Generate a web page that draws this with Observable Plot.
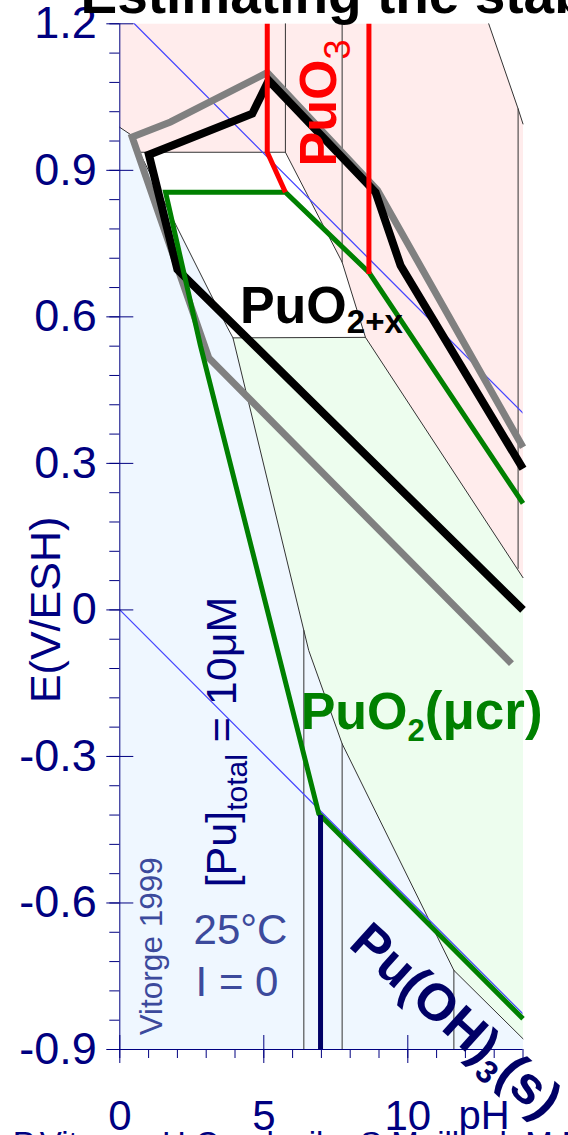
<!DOCTYPE html>
<html><head><meta charset="utf-8">
<script src="https://cdn.jsdelivr.net/npm/d3@7"></script>
<script src="https://cdn.jsdelivr.net/npm/@observablehq/plot@0.6"></script>
<style>
html,body{margin:0;padding:0;background:#fff;overflow:hidden}
#chart{position:relative;width:568px;height:1135px;overflow:hidden}
</style></head><body><div id="chart"></div>
<script>
// ---------- data (pH, E in V/ESH) ----------
const regionPink = [[0,1.2],[12.81,1.2],[13.83,1.026],[14,0.995],[14,0.066],[8.53,0.558],[7.72,0.712],[5.75,0.937],[0.68,0.937],[0.43,0.971],[0,0.988]];
const regionBlue = [[0,0.988],[0.43,0.971],[0.68,0.937],[3.73,0.579],[3.93,0.557],[6.39,-0.042],[6.56,-0.083],[7.72,-0.274],[11.60,-0.738],[14,-0.878],[14,-0.9],[0,-0.9]];
const regionGreen = [[3.93,0.557],[8.53,0.558],[14,0.066],[14,-0.878],[11.60,-0.738],[7.72,-0.274],[6.56,-0.083],[6.39,-0.042]];

const thinBoundaries = [
  [[0,0.988],[0.43,0.971],[0.68,0.937],[3.73,0.579],[3.93,0.557],[6.39,-0.042],[6.56,-0.083],[7.72,-0.274],[11.60,-0.738],[14,-0.878]],
  [[0.68,0.937],[5.75,0.937]],
  [[5.75,1.2],[5.75,0.937],[7.72,0.712],[8.53,0.558]],
  [[7.72,1.2],[7.72,0.712]],
  [[3.93,0.557],[8.53,0.558],[14,0.066]],
  [[12.81,1.2],[13.83,1.026],[14,0.995]],
  [[13.83,1.026],[13.83,0.085]],
  [[6.39,-0.042],[6.39,-0.9]],
  [[7.72,-0.274],[7.72,-0.9]],
  [[11.60,-0.738],[11.60,-0.9]]
];
const waterO2 = [[0,1.23],[14,0.403]];
const waterH2 = [[0,0],[14,-0.827]];

const grayLine  = [[13.60,-0.110],[3.09,0.516],[0.43,0.968],[1.76,0.999],[5.12,1.100],[8.95,0.859],[14,0.333]];
const blackLine = [[14,0.0],[2.00,0.697],[1.01,0.932],[4.60,1.016],[5.17,1.084],[8.88,0.855],[9.75,0.705],[14,0.289]];
const greenLine = [[14,-0.837],[6.91,-0.4175],[2.80,0.541],[1.59,0.855],[5.75,0.855],[8.65,0.691],[14,0.218]];
const redLine1  = [[5.12,1.2],[5.12,0.937],[5.75,0.855]];
const redLine2  = [[8.65,1.2],[8.65,0.688]];
const navyLine  = [[6.97,-0.42],[6.97,-0.9]];

const yMajor = [-0.9,-0.6,-0.3,0,0.3,0.6,0.9,1.2];
const yLabels = ["-0.9","-0.6","-0.3","0","0.3","0.6","0.9","1.2"];
const yMinor = d3.range(-0.9, 1.2001, 0.06);
const xMajor = [0,5,10];
const xLabels = ["0","5","10"];
const xMinor = d3.range(0, 15, 1);

// ---------- helpers ----------
const FONT = '"Liberation Sans", Arial, sans-serif';
const ctx = document.createElement("canvas").getContext("2d");
function tw(t, size, weight) { ctx.font = `${weight} ${size}px "Liberation Sans"`; return ctx.measureText(t).width; }
function rich(at, parts, {rotate = 0, fill = "black"} = {}) {
  const a = rotate * Math.PI / 180, ux = Math.cos(a), uy = Math.sin(a), nx = -Math.sin(a), ny = Math.cos(a);
  let off = 0;
  return parts.map(p => {
    const m = Plot.text([p], {x: () => at[0], y: () => at[1], text: d => d.t, fontSize: p.s, fontWeight: p.w || "normal",
      fontFamily: FONT, fill, rotate, textAnchor: "start", lineAnchor: "bottom",
      dx: off * ux + (p.sh || 0) * nx, dy: off * uy + (p.sh || 0) * ny});
    off += tw(p.t, p.s, p.w || "normal");
    return m;
  });
}
const poly = (d, fill) => Plot.line(d, {x: p => p[0], y: p => p[1], fill, stroke: "none"});
const thick = (d, stroke, w) => Plot.line(d, {x: p => p[0], y: p => p[1], stroke, strokeWidth: w, strokeLinejoin: "miter", strokeLinecap: "butt", strokeMiterlimit: 4});
const NAVY = "#000080";

const chart = Plot.plot({
  width: 568, height: 1135,
  marginLeft: 119.3, marginRight: 45.5, marginTop: 23.3, marginBottom: 86,
  style: {fontFamily: FONT, background: "white", overflow: "visible"},
  x: {domain: [0, 14]},
  y: {domain: [-0.9, 1.2]},
  marks: [
    poly(regionPink, "#ffecec"),
    poly(regionBlue, "#eff7ff"),
    poly(regionGreen, "#edfdee"),
    ...thinBoundaries.map(b => Plot.line(b, {x: p => p[0], y: p => p[1], stroke: "#333", strokeWidth: 1})),
    Plot.line(waterO2, {x: p => p[0], y: p => p[1], stroke: "#4646ff", strokeWidth: 1.3, clip: true}),
    Plot.line(waterH2, {x: p => p[0], y: p => p[1], stroke: "#4646ff", strokeWidth: 1.3, clip: true}),
    thick(grayLine, "#808080", 7),
    thick(blackLine, "#000", 8),
    thick(greenLine, "#008000", 5),
    thick(redLine1, "#ff0000", 5),
    thick(redLine2, "#ff0000", 5),
    thick(navyLine, "#000066", 5),
    // axes
    Plot.ruleX([0], {stroke: NAVY, strokeWidth: 1}),
    Plot.ruleY([-0.9], {stroke: NAVY, strokeWidth: 1}),
    Plot.axisY({ticks: yMinor, tickSize: 10, tickFormat: () => "", stroke: NAVY, label: null}),
    Plot.axisY({ticks: yMajor, tickSize: 13, tickFormat: () => "", stroke: NAVY, label: null}),
    Plot.axisY({ticks: yMajor, tickSize: 14, dx: 14, tickFormat: () => "", stroke: NAVY, label: null}),
    Plot.axisX({ticks: xMinor, tickSize: 9, tickFormat: () => "", stroke: NAVY, label: null}),
    Plot.axisX({ticks: xMajor, tickSize: 14, tickFormat: () => "", stroke: NAVY, label: null}),
    Plot.axisX({ticks: xMajor, tickSize: 14, dy: -14, tickFormat: () => "", stroke: NAVY, label: null}),
    Plot.text(yMajor, {y: d => d, text: (d, i) => yLabels[i], frameAnchor: "left", dx: -23, textAnchor: "end", lineAnchor: "middle", fontSize: 45, fill: NAVY, fontFamily: FONT}),
    Plot.text(xMajor, {x: d => d, text: (d, i) => xLabels[i], frameAnchor: "bottom", dy: 80, textAnchor: "middle", lineAnchor: "bottom", fontSize: 42, fill: NAVY, fontFamily: FONT}),
    Plot.text(["pH"], {x: () => 11.76, text: d => d, frameAnchor: "bottom", dy: 79, textAnchor: "start", lineAnchor: "bottom", fontSize: 40, fill: NAVY, fontFamily: FONT}),
    Plot.text(["E(V/ESH)"], {y: () => 0, text: d => d, frameAnchor: "left", dx: -60, rotate: -90, textAnchor: "middle", lineAnchor: "bottom", fontSize: 43, fill: NAVY, fontFamily: FONT}),
    // in-plot labels
    ...rich([7.49, 0.908], [{t: "PuO", s: 52, w: "bold"}, {t: "3", s: 36, sh: 14}], {rotate: -90, fill: "#ff0000"}),
    ...rich([4.17, 0.588], [{t: "PuO", s: 52, w: "bold"}, {t: "2+x", s: 33, w: "bold", sh: 10}], {fill: "#000"}),
    ...rich([6.28, -0.2435], [{t: "PuO", s: 52, w: "bold"}, {t: "2", s: 31, w: "bold", sh: 12}, {t: "(μcr)", s: 53, w: "bold"}], {fill: "#008000"}),
    ...rich([7.90, -0.688], [{t: "Pu(OH)", s: 52, w: "bold"}, {t: "3", s: 32, w: "bold", sh: 11}, {t: "(s)", s: 53, w: "bold"}], {rotate: 42, fill: "#000066"}),
    ...rich([4.05, -0.568], [{t: "[Pu]", s: 43}, {t: "total", s: 30, sh: 11}, {t: " = 10μM", s: 43}], {rotate: -90, fill: NAVY}),
    ...rich([1.47, -0.871], [{t: "Vitorge 1999", s: 31.5}], {rotate: -90, fill: "#3c4a9c"}),
    ...rich([2.56, -0.684], [{t: "25°C", s: 42}], {fill: "#3c4a9c"}),
    ...rich([2.63, -0.790], [{t: "I = 0", s: 42}], {fill: "#3c4a9c"}),
    // title and credits (clipped by the page)
    Plot.text(["Estimating the stability"], {text: d => d, frameAnchor: "top-left", dx: -39.3, dy: -10.3, textAnchor: "start", lineAnchor: "bottom", fontSize: 55, fontWeight: "bold", fill: "#000", fontFamily: FONT}),
    Plot.text(["P.Vitorge, H.Capdevila, S.Maillard, M.Maltret"], {text: d => d, frameAnchor: "bottom-left", dx: -107, dy: 105, textAnchor: "start", lineAnchor: "bottom", fontSize: 33, fill: NAVY, fontFamily: FONT})
  ]
});
document.getElementById("chart").appendChild(chart);
</script></body></html>
